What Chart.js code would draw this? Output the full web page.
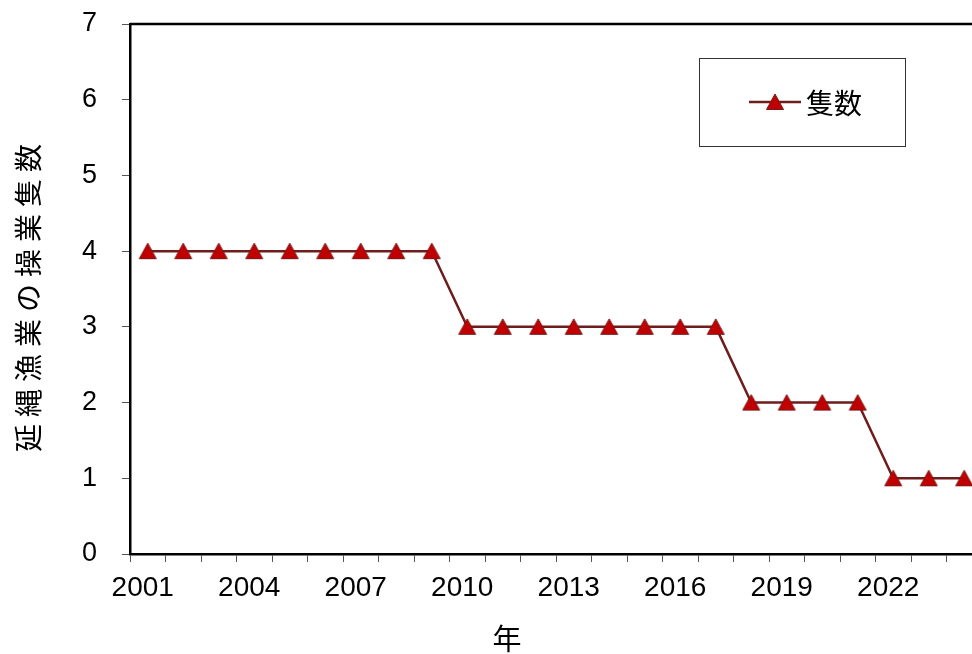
<!DOCTYPE html>
<html lang="ja">
<head>
<meta charset="utf-8">
<title>延縄漁業の操業隻数</title>
<script src="https://cdn.jsdelivr.net/npm/chart.js@4/dist/chart.umd.min.js"></script>
<style>
  html, body { margin: 0; padding: 0; background: #fff; overflow: hidden; }
  #wrap { position: relative; width: 1000px; height: 654px; }
</style>
</head>
<body>
<div id="wrap"><canvas id="c" width="1000" height="654"></canvas></div>
<script>
// 年ごとの延縄漁業の操業隻数
const years = ['2001','2002','2003','2004','2005','2006','2007','2008','2009','2010','2011','2012',
               '2013','2014','2015','2016','2017','2018','2019','2020','2021','2022','2023','2024'];
const vessels = [4,4,4,4,4,4,4,4,4,3,3,3,3,3,3,3,3,2,2,2,2,1,1,1];
const yearTickLabels = ['2001','2004','2007','2010','2013','2016','2019','2022'];
const seriesLabel = '隻数';
const xTitle = '年';
const yTitle = '延縄漁業の操業隻数';

const LINE_COLOR = '#6e1d1d';
const MARK_FILL = '#c00000';
const MARK_EDGE = '#7a1a1a';

// Triangle marker, centred in its own small canvas
function makeTriangle() {
  const c = document.createElement('canvas');
  c.width = 22; c.height = 22;
  const g = c.getContext('2d');
  g.beginPath();
  g.moveTo(11, 3);
  g.lineTo(19.5, 18.5);
  g.lineTo(2.5, 18.5);
  g.closePath();
  g.fillStyle = MARK_FILL;
  g.fill();
  g.lineWidth = 1;
  g.strokeStyle = MARK_EDGE;
  g.stroke();
  return c;
}
const tri = makeTriangle();

// Frame top edge, axis titles and the boxed legend
const decorations = {
  id: 'decorations',
  afterDraw(chart) {
    const { ctx, chartArea } = chart;
    ctx.save();
    // top edge of the plot frame
    ctx.strokeStyle = '#000';
    ctx.lineWidth = 2.5;
    ctx.beginPath();
    ctx.moveTo(chartArea.left, chartArea.top);
    ctx.lineTo(chartArea.right, chartArea.top);
    ctx.stroke();

    // y axis title, rotated
    ctx.fillStyle = '#000';
    ctx.font = '28px "Noto Sans CJK JP"';
    ctx.letterSpacing = '7px';
    ctx.textAlign = 'center';
    ctx.textBaseline = 'middle';
    ctx.translate(28, 298);
    ctx.rotate(-Math.PI / 2);
    ctx.fillText(yTitle, 3.5, 0);
    ctx.restore();

    ctx.save();
    // x axis title
    ctx.fillStyle = '#000';
    ctx.font = '29px "Noto Sans CJK JP"';
    ctx.textAlign = 'center';
    ctx.textBaseline = 'middle';
    ctx.fillText(xTitle, 507, 639);

    // legend box
    ctx.strokeStyle = '#333';
    ctx.lineWidth = 1;
    ctx.strokeRect(699.5, 58.5, 206, 88);
    const ds = chart.data.datasets[0];
    ctx.strokeStyle = ds.borderColor;
    ctx.lineWidth = 2.5;
    ctx.beginPath();
    ctx.moveTo(749, 102);
    ctx.lineTo(801, 102);
    ctx.stroke();
    ctx.drawImage(tri, 775 - 11, 102 - 11);
    ctx.fillStyle = '#000';
    ctx.font = '28px "Noto Sans CJK JP"';
    ctx.textAlign = 'left';
    ctx.fillText(ds.label, 806, 103);
    ctx.restore();
  }
};

new Chart(document.getElementById('c'), {
  type: 'line',
  data: {
    labels: years,
    datasets: [{
      label: seriesLabel,
      data: vessels,
      borderColor: LINE_COLOR,
      borderWidth: 2.5,
      pointStyle: tri,
      pointRadius: 9,
      pointHoverRadius: 9,
      tension: 0,
      fill: false
    }]
  },
  options: {
    responsive: false,
    animation: false,
    events: [],
    layout: { padding: { left: 0, top: 24, right: 18, bottom: 0 } },
    plugins: { legend: { display: false }, tooltip: { enabled: false } },
    scales: {
      x: {
        type: 'category',
        offset: true,
        grid: { offset: true, drawOnChartArea: false, tickLength: 8, tickColor: '#555', lineWidth: 1 },
        border: { color: '#000', width: 2.5 },
        ticks: {
          autoSkip: false,
          maxRotation: 0,
          minRotation: 0,
          padding: 9,
          labelOffset: -5,
          color: '#000',
          font: { family: '"Liberation Sans", Arial', size: 28 },
          callback(v, i) {
            const y = this.getLabelForValue(v);
            return yearTickLabels.includes(y) ? y : '';
          }
        },
        afterFit(scale) {
          scale.height = 100;
          scale.paddingLeft = 0; scale.paddingRight = 0;
          scale.paddingTop = 0; scale.paddingBottom = 0;
        }
      },
      y: {
        min: 0,
        max: 7,
        grid: { drawOnChartArea: false, tickLength: 8, tickColor: '#555', lineWidth: 1 },
        border: { color: '#000', width: 2.5 },
        ticks: {
          stepSize: 1,
          padding: 25,
          color: '#000',
          font: { family: '"Liberation Sans", Arial', size: 27 }
        },
        afterFit(scale) {
          scale.width = 130;
          scale.paddingTop = 0; scale.paddingBottom = 0;
          scale.paddingLeft = 0; scale.paddingRight = 0;
        }
      }
    }
  },
  plugins: [decorations]
});
</script>
</body>
</html>
